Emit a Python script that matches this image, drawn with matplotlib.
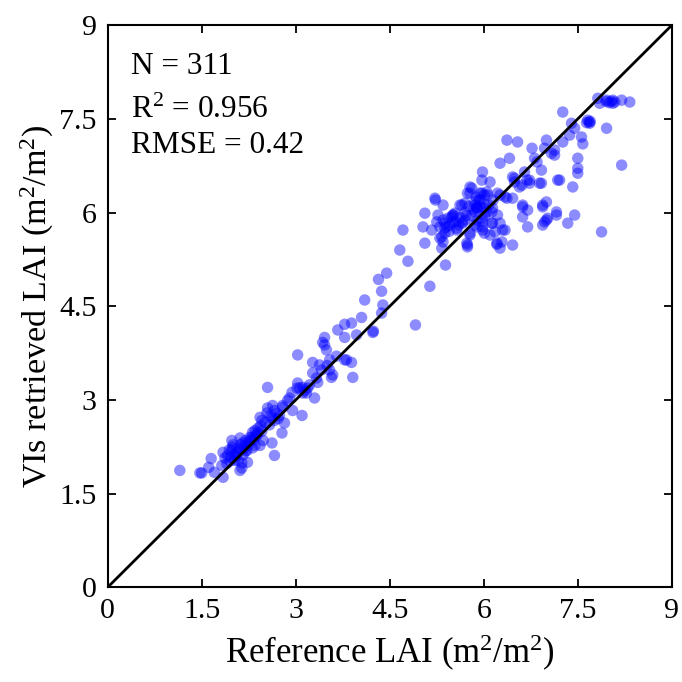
import matplotlib
matplotlib.use('Agg')
import matplotlib.pyplot as plt

plt.rcParams['font.family'] = ['Liberation Serif', 'DejaVu Serif']
plt.rcParams['mathtext.fontset'] = 'custom'
plt.rcParams['mathtext.rm'] = 'Liberation Serif'
plt.rcParams['mathtext.default'] = 'regular'

# reference LAI / VI retrieved LAI (three zones)
low_ref = [1.15, 1.47, 1.50, 1.61, 1.65, 1.70, 1.84, 1.82, 1.84, 1.87, 1.91, 1.95, 1.98, 1.99,
           1.98, 2.03, 2.06, 2.08, 2.11, 2.14, 2.14, 2.11, 2.15, 2.18, 2.22, 2.23, 2.20, 2.27,
           2.25, 2.31, 2.31, 2.35, 2.35, 2.39, 2.38, 2.43, 2.46, 2.43, 2.48, 2.54, 2.55, 2.55,
           2.51, 2.62, 2.63, 2.62, 2.66, 2.66, 2.66, 2.74, 2.78, 2.79, 2.82, 2.79, 2.87, 2.90,
           2.94, 2.95, 3.03, 3.02, 3.10, 3.11, 3.11, 3.06, 3.19, 3.03, 2.00, 2.05, 2.16, 2.28,
           1.94, 2.12, 2.40, 2.70, 2.58, 2.20, 1.90, 2.46, 2.02, 2.10, 2.17, 2.24, 2.30, 2.33,
           1.96, 2.08, 2.36, 2.44, 2.60, 2.72, 3.15]
low_vi = [1.87, 1.83, 1.83, 1.92, 2.06, 1.84, 1.76, 1.95, 2.16, 2.07, 2.11, 2.02, 2.19, 2.24,
          2.35, 2.03, 2.15, 2.22, 1.87, 1.91, 1.99, 2.39, 2.31, 2.26, 2.19, 2.00, 2.35, 2.40,
          2.28, 2.48, 2.23, 2.27, 2.51, 2.47, 2.43, 2.27, 2.67, 2.72, 2.35, 2.79, 2.87, 3.20,
          2.64, 2.71, 2.91, 2.31, 2.11, 2.67, 2.83, 2.75, 2.47, 2.88, 2.63, 2.91, 2.99, 3.03,
          3.12, 2.83, 3.27, 3.19, 2.75, 3.20, 3.11, 3.19, 3.19, 3.72, 2.28, 2.10, 2.12, 2.35,
          2.20, 2.28, 2.55, 2.78, 2.60, 2.18, 1.98, 2.50, 2.12, 2.20, 2.22, 2.32, 2.40, 2.36,
          2.08, 2.03, 2.42, 2.58, 2.75, 2.70, 3.15]

mid_ref = [3.17, 3.22, 3.27, 3.27, 3.30, 3.35, 3.38, 3.41, 3.43, 3.46, 3.49, 3.46, 3.54, 3.54,
           3.57, 3.59, 3.67, 3.78, 3.78, 3.78, 3.81, 3.89, 3.91, 3.89, 3.97, 4.05, 4.10, 4.23,
           4.24, 4.32, 4.37, 4.37, 4.39, 4.45, 4.66, 4.71, 4.79, 4.91, 3.33, 3.50, 3.65]
mid_vi = [3.11, 3.24, 3.43, 3.60, 3.03, 3.28, 3.56, 3.48, 3.92, 3.88, 3.80, 4.00, 3.64, 3.48,
          3.36, 3.40, 4.12, 4.21, 4.00, 3.64, 3.64, 3.60, 3.36, 4.23, 4.04, 4.32, 4.60, 4.08,
          4.10, 4.93, 4.74, 4.39, 4.52, 5.03, 5.40, 5.72, 5.22, 4.20, 3.35, 3.55, 3.70]

high_ref = [5.03, 5.06, 5.06, 5.14, 5.17, 5.22, 5.23, 5.25, 5.27, 5.30, 5.30, 5.33, 5.33, 5.35,
            5.35, 5.35, 5.38, 5.38, 5.38, 5.39, 5.41, 5.43, 5.49, 5.51, 5.51, 5.54, 5.57, 5.62,
            5.65, 5.66, 5.66, 5.70, 5.73, 5.74, 5.74, 5.78, 5.78, 5.78, 5.78, 5.81, 5.86, 5.86,
            5.86, 5.89, 5.89, 5.89, 5.90, 5.94, 5.94, 5.97, 5.97, 5.98, 5.98, 5.98, 5.98, 5.98,
            6.01, 6.01, 6.01, 6.05, 6.06, 6.10, 6.10, 6.13, 6.13, 6.14, 6.14, 6.18, 6.21, 6.21,
            6.22, 6.22, 6.26, 6.26, 6.26, 6.26, 6.29, 6.30, 6.34, 6.34, 6.37, 6.37, 6.41, 6.46,
            6.46, 6.46, 6.49, 6.49, 6.54, 6.57, 6.61, 6.62, 6.62, 6.62, 6.65, 6.69, 6.70, 6.70,
            6.73, 6.73, 6.77, 6.81, 6.85, 6.89, 6.92, 6.92, 6.94, 6.94, 6.94, 6.97, 6.97, 7.00,
            7.00, 7.00, 7.02, 7.08, 7.13, 7.13, 7.16, 7.16, 7.18, 7.21, 7.26, 7.26, 7.34, 7.37,
            7.40, 7.42, 7.45, 7.45, 7.50, 7.50, 7.50, 7.56, 7.58, 7.66, 7.69, 7.68, 7.64, 7.82,
            7.85, 7.88, 7.96, 7.96, 8.06, 8.03, 8.09, 8.06, 8.20, 8.20, 8.33, 5.57, 5.51, 5.89,
            5.70, 5.74, 6.05, 5.94, 5.62, 5.80, 6.00, 5.85, 5.46, 5.70, 5.60, 5.72, 5.84, 5.92,
            6.02, 5.55, 5.88, 6.08, 5.45, 5.76, 6.15, 7.95, 8.00, 7.70]
high_vi = [5.77, 5.99, 5.51, 4.82, 5.72, 6.23, 6.20, 5.85, 5.96, 5.77, 5.59, 5.61, 5.43, 5.53,
           6.12, 5.88, 5.83, 5.75, 5.67, 5.16, 5.77, 5.91, 5.93, 5.85, 5.96, 5.99, 5.72, 6.12,
           6.12, 5.83, 5.85, 6.15, 5.51, 5.48, 6.31, 5.64, 5.67, 6.41, 6.31, 6.39, 6.12, 6.01,
           6.17, 6.09, 5.77, 5.88, 6.07, 6.20, 6.31, 6.31, 6.52, 6.65, 5.91, 5.77, 5.72, 5.85,
           6.07, 5.67, 6.28, 6.01, 6.28, 6.49, 5.64, 6.01, 5.83, 5.83, 6.07, 5.69, 5.49, 5.51,
           5.96, 6.31, 5.43, 5.83, 6.28, 6.79, 5.53, 5.72, 5.72, 6.25, 6.23, 7.16, 6.87, 5.48,
           6.23, 6.57, 6.49, 6.55, 7.13, 6.41, 6.44, 6.12, 6.09, 5.93, 6.65, 6.52, 6.04, 5.77,
           6.47, 6.52, 7.03, 6.87, 6.81, 6.47, 6.68, 6.47, 6.12, 6.09, 5.80, 5.85, 7.03, 7.16,
           6.17, 5.88, 5.91, 6.95, 6.92, 7.00, 6.01, 5.96, 6.52, 6.52, 7.61, 7.13, 5.83, 7.24,
           7.43, 6.41, 7.35, 5.96, 6.87, 6.71, 6.63, 7.21, 7.10, 7.48, 7.43, 7.45, 7.44, 7.83,
           7.75, 5.69, 7.80, 7.35, 7.80, 7.78, 7.77, 7.75, 7.80, 6.76, 7.77, 5.75, 5.96, 6.07,
           5.88, 5.45, 6.33, 6.10, 5.92, 5.95, 6.15, 5.80, 5.80, 6.00, 5.80, 5.95, 6.05, 6.20,
           5.95, 5.85, 6.25, 6.12, 5.70, 6.10, 6.20, 7.78, 7.76, 7.46]

ref_lai = low_ref + mid_ref + high_ref
vi_lai = low_vi + mid_vi + high_vi
ticks = [0, 1.5, 3, 4.5, 6, 7.5, 9]
tick_labels = ['0', '1.5', '3', '4.5', '6', '7.5', '9']

fig = plt.figure(figsize=(6.82, 6.82), dpi=100)
ax = fig.add_axes([0.158, 0.139, 0.827, 0.824])

ax.scatter(ref_lai, vi_lai, s=68, color='#0000ff', alpha=0.45, edgecolors='none', zorder=2)
ax.plot([0, 9], [0, 9], color='black', lw=2.0, zorder=3)

ax.set_xlim(0, 9)
ax.set_ylim(0, 9)
ax.set_xticks(ticks)
ax.set_xticklabels(tick_labels)
ax.set_yticks(ticks)
ax.set_yticklabels(tick_labels)
ax.tick_params(direction='in', length=6, width=1.3, top=True, right=True,
               labelsize=21.5, pad=8)
for sp in ax.spines.values():
    sp.set_linewidth(1.5)

ax.set_xlabel('Reference LAI (m$^{2}$/m$^{2}$)', fontsize=25, labelpad=6)
ax.set_ylabel('VIs retrieved LAI (m$^{2}$/m$^{2}$)', fontsize=24.5, labelpad=2)

ax.text(0.041, 0.913, 'N = 311', transform=ax.transAxes, fontsize=22.5, va='baseline')
ax.text(0.041, 0.835, 'R$^{2}$ = 0.956', transform=ax.transAxes, fontsize=22.5, va='baseline')
ax.text(0.041, 0.772, 'RMSE = 0.42', transform=ax.transAxes, fontsize=22.5, va='baseline')

fig.savefig('out.png', dpi=100)
